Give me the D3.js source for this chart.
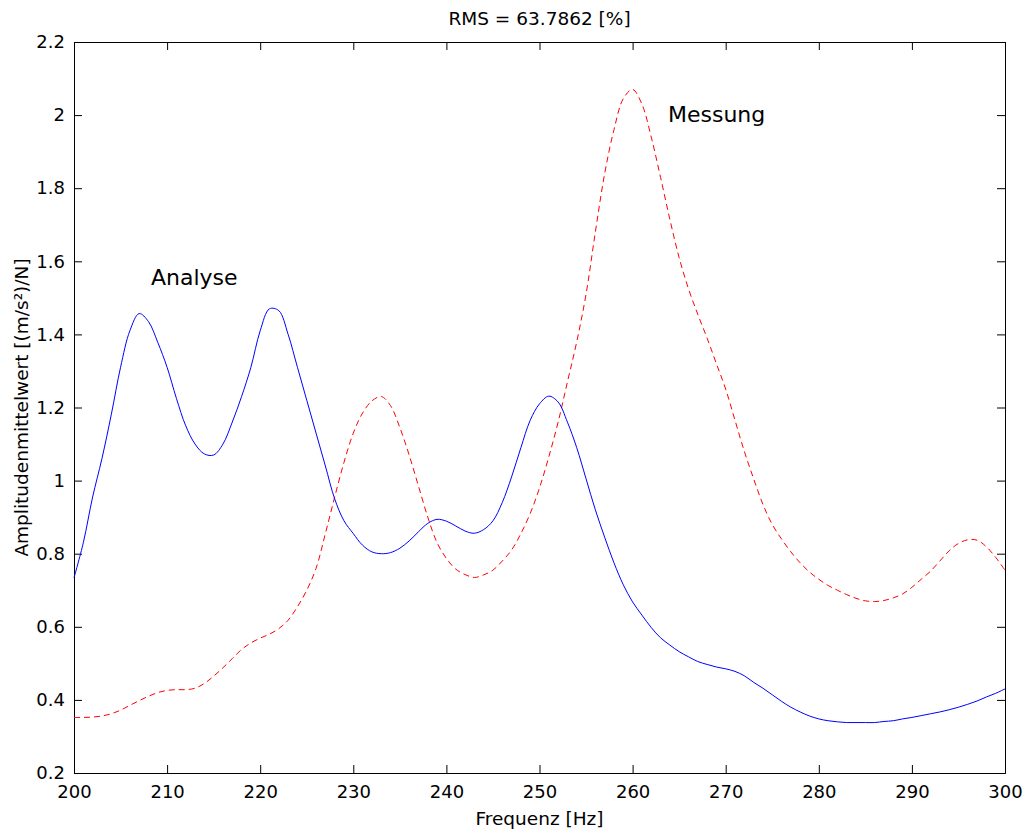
<!DOCTYPE html>
<html>
<head>
<meta charset="utf-8">
<script src="https://cdn.jsdelivr.net/npm/d3@7"></script>
<style>
  body { margin: 0; background: #fff; }
  svg { font-family: "DejaVu Sans", Verdana, sans-serif; }
</style>
</head>
<body>
<div id="chart"></div>
<script>
const width = 1025;
const height = 832;
const margin = { top: 42, right: 20, bottom: 59, left: 74 };

// frequency grid (Hz)
const freq = d3.range(200, 301);

// Analyse (solid blue)
const analyse = [
  0.734, 0.83, 0.955, 1.06, 1.18, 1.31, 1.41, 1.457, 1.435, 1.378,
  1.31, 1.225, 1.15, 1.10, 1.073, 1.07, 1.10, 1.16, 1.23, 1.31,
  1.41, 1.47, 1.465, 1.40, 1.31, 1.22, 1.13, 1.04, 0.95, 0.89,
  0.855, 0.823, 0.805, 0.80, 0.803, 0.815, 0.835, 0.86, 0.883, 0.894,
  0.889, 0.876, 0.862, 0.856, 0.866, 0.89, 0.94, 1.01, 1.09, 1.165,
  1.21, 1.231, 1.215, 1.16, 1.09, 1.005, 0.92, 0.845, 0.775, 0.715,
  0.668, 0.632, 0.598, 0.570, 0.55, 0.532, 0.518, 0.505, 0.497, 0.49,
  0.485, 0.478, 0.466, 0.448, 0.432, 0.414, 0.396, 0.38, 0.367, 0.356,
  0.348, 0.343, 0.34, 0.338, 0.338, 0.338, 0.338, 0.341, 0.343, 0.348,
  0.352, 0.357, 0.362, 0.367, 0.373, 0.38, 0.388, 0.397, 0.408, 0.418,
  0.43
];

// Messung (dashed red)
const messung = [
  0.352, 0.352, 0.353, 0.356, 0.362, 0.372, 0.385, 0.398, 0.41, 0.42,
  0.426, 0.428, 0.428, 0.432, 0.445, 0.465, 0.488, 0.513, 0.538, 0.556,
  0.569, 0.58, 0.595, 0.618, 0.655, 0.70, 0.76, 0.855, 0.955, 1.05,
  1.13, 1.185, 1.218, 1.23, 1.205, 1.145, 1.07, 0.985, 0.9, 0.83,
  0.787, 0.758, 0.743, 0.735, 0.742, 0.755, 0.78, 0.81, 0.855, 0.91,
  0.98, 1.065, 1.16, 1.27, 1.38, 1.51, 1.68, 1.84, 1.96, 2.045,
  2.07, 2.03, 1.94, 1.83, 1.715, 1.61, 1.525, 1.455, 1.39, 1.32,
  1.25, 1.165, 1.08, 1.005, 0.935, 0.88, 0.84, 0.805, 0.775, 0.75,
  0.73, 0.713, 0.70, 0.688, 0.678, 0.671, 0.669, 0.672, 0.679, 0.69,
  0.708, 0.73, 0.752, 0.78, 0.808, 0.828, 0.838, 0.837, 0.819, 0.79,
  0.755
];

const xTicks = [200, 210, 220, 230, 240, 250, 260, 270, 280, 290, 300];
const yTicks = [0.2, 0.4, 0.6, 0.8, 1, 1.2, 1.4, 1.6, 1.8, 2, 2.2];

const svg = d3.select("#chart").append("svg")
  .attr("width", width)
  .attr("height", height);

const x = d3.scaleLinear().domain([200, 300]).range([margin.left, width - margin.right]);
const y = d3.scaleLinear().domain([0.2, 2.2]).range([height - margin.bottom, margin.top]);

const fmt = d => String(+d.toFixed(1));

// axes, ticks pointing inwards
svg.append("g")
  .attr("transform", `translate(0,${y(0.2)})`)
  .call(d3.axisBottom(x).tickValues(xTicks).tickSize(-8).tickPadding(12).tickFormat(d => d))
  .call(g => g.selectAll("text").attr("font-size", 18));

svg.append("g")
  .attr("transform", `translate(0,${y(2.2)})`)
  .call(d3.axisTop(x).tickValues(xTicks).tickSize(-8).tickFormat(""));

svg.append("g")
  .attr("transform", `translate(${x(200)},0)`)
  .call(d3.axisLeft(y).tickValues(yTicks).tickSize(-8).tickPadding(9).tickFormat(fmt))
  .call(g => g.selectAll("text").attr("font-size", 18));

svg.append("g")
  .attr("transform", `translate(${x(300)},0)`)
  .call(d3.axisRight(y).tickValues(yTicks).tickSize(-8).tickFormat(""));

svg.selectAll(".domain").attr("stroke", "#000");
svg.selectAll(".tick line").attr("stroke", "#000");
svg.selectAll(".tick text").attr("fill", "#000").attr("font-family", "DejaVu Sans, sans-serif");

// curves
const line = d3.line()
  .x((d, i) => x(freq[i]))
  .y(d => y(d))
  .curve(d3.curveCatmullRom);

svg.append("path")
  .datum(messung)
  .attr("fill", "none")
  .attr("stroke", "#ff0000")
  .attr("stroke-width", 1)
  .attr("stroke-dasharray", "6,4")
  .attr("d", line);

svg.append("path")
  .datum(analyse)
  .attr("fill", "none")
  .attr("stroke", "#0000ff")
  .attr("stroke-width", 1)
  .attr("d", line);

// text
svg.append("text")
  .attr("x", (x(200) + x(300)) / 2)
  .attr("y", 25)
  .attr("text-anchor", "middle")
  .attr("font-size", 18.5)
  .text("RMS = 63.7862 [%]");

svg.append("text")
  .attr("x", (x(200) + x(300)) / 2)
  .attr("y", 825)
  .attr("text-anchor", "middle")
  .attr("font-size", 18.5)
  .text("Frequenz [Hz]");

svg.append("text")
  .attr("transform", `translate(28,${(y(0.2) + y(2.2)) / 2}) rotate(-90)`)
  .attr("text-anchor", "middle")
  .attr("font-size", 18.5)
  .text("Amplitudenmittelwert [(m/s²)/N]");

svg.append("text")
  .attr("x", x(208.27))
  .attr("y", y(1.535))
  .attr("font-size", 22)
  .text("Analyse");

svg.append("text")
  .attr("x", x(263.8))
  .attr("y", y(1.981))
  .attr("font-size", 22)
  .text("Messung");
</script>
</body>
</html>
